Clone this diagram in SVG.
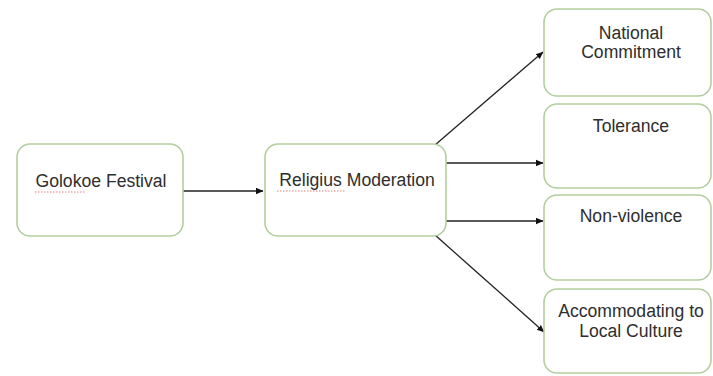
<svg xmlns="http://www.w3.org/2000/svg" width="713" height="376" viewBox="0 0 713 376">
<style>
.box{fill:#fff;stroke:#b3cf9e;stroke-width:1.6}
.t{font-family:"Liberation Sans",Arial,sans-serif;font-size:17.6px;fill:#2e2e2e;text-anchor:middle}
.c{stroke:#222;stroke-width:1.3;fill:none;marker-end:url(#ah)}
.sq{stroke:#e06060;stroke-width:1;fill:none;stroke-dasharray:1.5 1.5;opacity:0.8}
</style>
<defs>
<marker id="ah" markerWidth="8" markerHeight="8" refX="7" refY="4" orient="auto" markerUnits="userSpaceOnUse">
<path d="M0,0.8 L7.5,4 L0,7.2 Z" fill="#111"/>
</marker>
</defs>
<rect width="713" height="376" fill="#fff"/>
<g id="connectors">
<line class="c" x1="183" y1="191" x2="263" y2="191"/>
<line class="c" x1="435" y1="145" x2="543" y2="52"/>
<line class="c" x1="442" y1="163" x2="543" y2="163"/>
<line class="c" x1="442" y1="221" x2="543" y2="221"/>
<line class="c" x1="435" y1="235" x2="544" y2="332"/>
</g>
<g id="golokoe">
<rect class="box" x="17" y="144" width="166" height="92" rx="13"/>
<text class="t" x="101" y="187">Golokoe Festival</text>
<path class="sq" d="M35 192 H85"/>
</g>
<g id="religius">
<rect class="box" x="265" y="144" width="181" height="92" rx="13"/>
<text class="t" x="357" y="186">Religius Moderation</text>
<path class="sq" d="M277 191 H345"/>
</g>
<g id="national">
<rect class="box" x="544" y="9" width="167" height="87" rx="13"/>
<text class="t" x="631" y="39">National</text>
<text class="t" x="631" y="58">Commitment</text>
</g>
<g id="tolerance">
<rect class="box" x="544" y="104" width="167" height="84" rx="13"/>
<text class="t" x="631" y="132">Tolerance</text>
</g>
<g id="nonviolence">
<rect class="box" x="544" y="195" width="167" height="85" rx="13"/>
<text class="t" x="631" y="222">Non-violence</text>
</g>
<g id="accommodating">
<rect class="box" x="544" y="289" width="167" height="84" rx="13"/>
<text class="t" x="631" y="317">Accommodating to</text>
<text class="t" x="631" y="337">Local Culture</text>
</g>
</svg>
